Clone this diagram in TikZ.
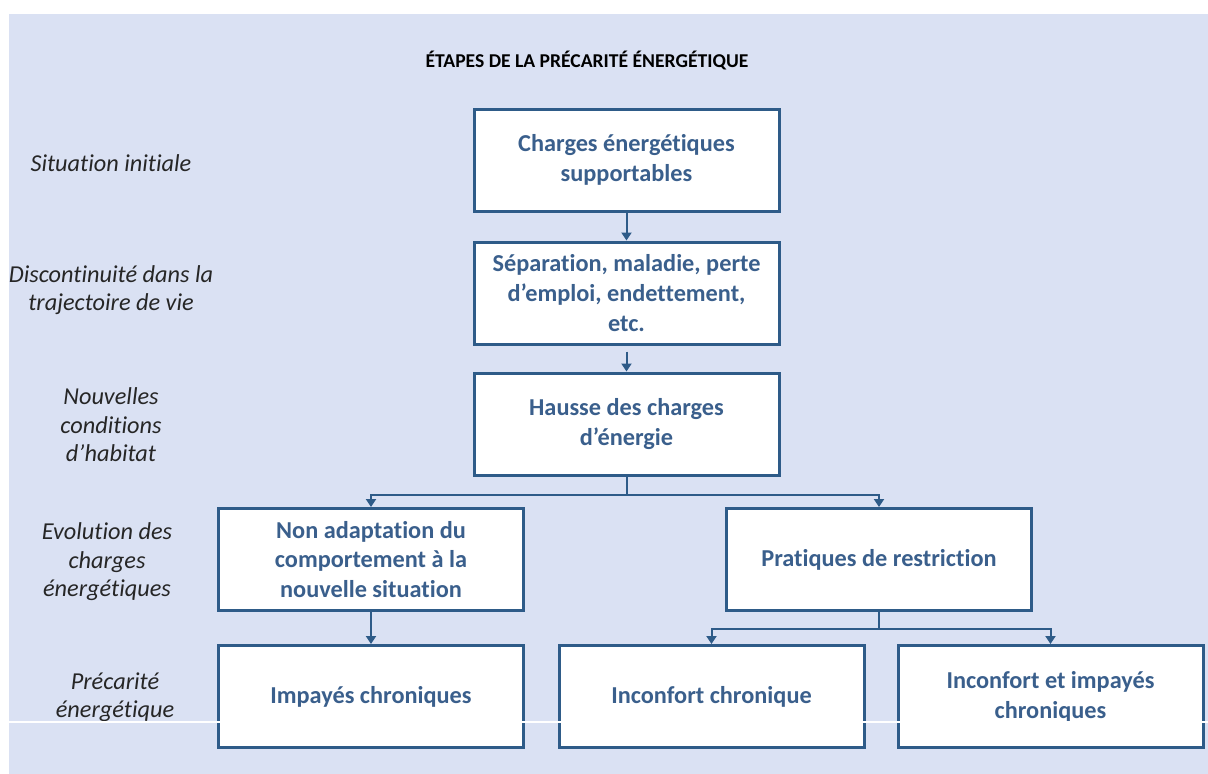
\documentclass[tikz,border=0pt]{standalone}
\usepackage{fontspec}
\setmainfont{Carlito}[Ligatures=NoCommon]
\usetikzlibrary{arrows.meta}
\definecolor{bgc}{HTML}{DAE1F3}
\definecolor{boxc}{HTML}{2E5B88}
\definecolor{txtc}{HTML}{3A5F8C}
\tikzset{
  stepbox/.style={draw=boxc, line width=3pt, fill=white, minimum width=305pt, minimum height=102pt, align=center, text=txtc, font=\fontsize{24.3}{30}\selectfont\bfseries, inner sep=0pt},
  condbox/.style={stepbox, font=\fontsize{24.3}{29.5}\selectfont\bfseries},
  sidelbl/.style={align=center, font=\fontsize{24.3}{28.5}\selectfont\itshape, text=black!85},
  conn/.style={draw=boxc, line width=2pt, -{Triangle[width=10pt,length=8pt]}},
  connline/.style={draw=boxc, line width=2pt}
}
\begin{document}
\begin{tikzpicture}[x=1pt,y=-1pt]
\useasboundingbox (0,0) rectangle (1208,774);
\fill[bgc] (9,14) rectangle (1208,774);
% title
\node[font=\fontsize{19.6}{22}\selectfont\bfseries, text=black] (title) at (587,60) {ÉTAPES DE LA PRÉCARITÉ ÉNERGÉTIQUE};
% side labels
\node[sidelbl] (l1) at (111,163) {Situation initiale};
\node[sidelbl] (l2) at (111,290) {Discontinuité dans la\\trajectoire de vie};
\node[sidelbl] (l3) at (111,425) {Nouvelles\\conditions\\d’habitat};
\node[sidelbl] (l4) at (107,562) {Evolution des\\charges\\énergétiques};
\node[sidelbl] (l5) at (115,697) {Précarité\\énergétique};
% boxes
\node[stepbox] (b1) at (626.5,160) {Charges énergétiques\\supportables};
\node[stepbox] (b2) at (626.5,293) {Séparation, maladie, perte\\d’emploi, endettement,\\etc.};
\node[stepbox] (b3) at (626.5,424) {Hausse des charges\\d’énergie};
\node[condbox] (b4) at (371,559.5) {Non adaptation du\\comportement à la\\nouvelle situation};
\node[condbox] (b5) at (879,559.5) {Pratiques de restriction};
\node[stepbox] (b6) at (371,696.5) {Impayés chroniques};
\node[stepbox] (b7) at (711.5,696.5) {Inconfort chronique};
\node[stepbox] (b8) at (1050.5,696.5) {Inconfort et impayés\\chroniques};
% connectors
\draw[conn] (b1.south) -- (b2.north);
\coordinate (s2) at ([yshift=-6pt]b2.south);
\draw[conn] (s2) -- (b3.north);
\coordinate (j3) at ([yshift=-18pt]b3.south);
\draw[connline] (b3.south) -- (j3);
\draw[conn] (j3) -| (b4.north);
\draw[conn] (j3) -| (b5.north);
\draw[conn] (b4.south) -- (b6.north);
\coordinate (j5) at ([yshift=-17pt]b5.south);
\draw[connline] (b5.south) -- (j5);
\draw[conn] (j5) -| (b7.north);
\draw[conn] (j5) -| (b8.north);
% white rule across the page
\coordinate (wl) at (8,722);
\coordinate (wr) at (1208,722);
\draw[white, line width=1.5pt] (wl) -- (wr);
\end{tikzpicture}
\end{document}
